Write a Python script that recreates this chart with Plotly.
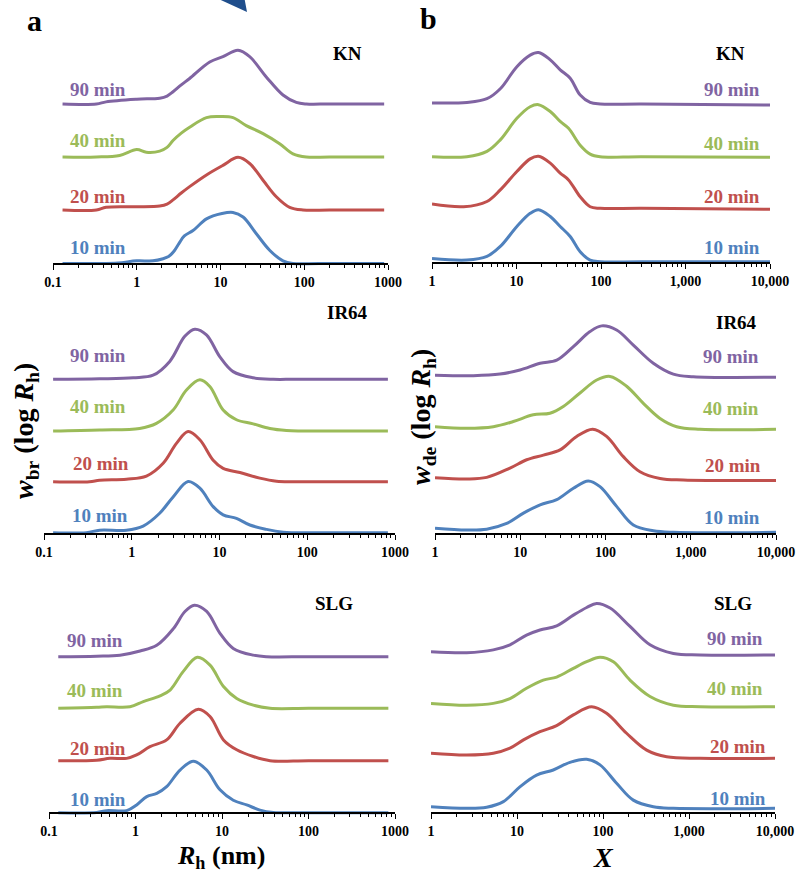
import plotly.graph_objects as go

W, H = 800, 875
FONT = "Liberation Serif"
COLORS = ["#4F81BD", "#C0504D", "#9BBB59", "#8064A2"]
TIMES = ["10 min", "20 min", "40 min", "90 min"]

# ---------------- Panel a (Rh), KN ----------------
kn_rh_x10 = [0.13, 0.33, 0.6, 1.0, 1.56, 2.06, 2.4, 2.75, 3.2, 3.7, 4.7, 6.8, 10.4, 14.1, 18.6, 26.8, 38.6, 55.7, 73, 150, 900]
kn_rh_y10 = [0, 0, 0.01, 0.05, 0.05, 0.09, 0.13, 0.22, 0.38, 0.52, 0.62, 0.84, 0.94, 0.96, 0.875, 0.56, 0.25, 0.05, 0, 0, 0]
kn_rh_x20 = [0.13, 0.33, 0.43, 1.0, 1.88, 2.3, 2.71, 3.4, 4.28, 6.8, 10.7, 16.2, 22.3, 32.2, 46.4, 67, 96.6, 200, 900]
kn_rh_y20 = [0, 0, 0.05, 0.06, 0.075, 0.11, 0.19, 0.32, 0.44, 0.66, 0.84, 0.99, 0.875, 0.56, 0.25, 0.05, 0, 0, 0]
kn_rh_x40 = [0.13, 0.33, 0.625, 1.0, 1.3, 1.88, 2.3, 2.71, 3.4, 4.28, 6.8, 9.8, 14.1, 20.3, 32.2, 50.8, 73.4, 106, 200, 900]
kn_rh_y40 = [0, 0, 0.03, 0.14, 0.09, 0.11, 0.18, 0.31, 0.45, 0.56, 0.74, 0.76, 0.74, 0.59, 0.44, 0.25, 0.06, 0, 0, 0]
kn_rh_x90 = [0.13, 0.33, 0.43, 1.0, 1.88, 2.3, 2.71, 3.4, 4.28, 7.43, 10.7, 16.2, 22.3, 35.2, 55.7, 80.4, 106, 200, 900]
kn_rh_y90 = [0, 0, 0.04, 0.09, 0.11, 0.15, 0.23, 0.36, 0.48, 0.79, 0.89, 1.01, 0.89, 0.51, 0.17, 0.03, 0, 0, 0]

# ---------------- Panel a (Rh), IR64 ----------------
ir_rh_x10 = [0.127, 0.304, 0.43, 0.87, 1.35, 2.08, 2.96, 4.39, 5.97, 8.47, 11, 15.6, 22.2, 34.4, 53.2, 69, 150, 830]
ir_rh_y10 = [0, 0, 0.05, 0.05, 0.13, 0.38, 0.7, 1.0, 0.87, 0.51, 0.35, 0.28, 0.15, 0.065, 0.01, 0, 0, 0]
ir_rh_x20 = [0.127, 0.33, 0.43, 0.87, 1.47, 2.28, 3.23, 4.39, 5.97, 8.47, 11, 17.1, 28.8, 44.7, 69, 150, 830]
ir_rh_y20 = [0, 0, 0.03, 0.05, 0.11, 0.36, 0.75, 0.98, 0.82, 0.42, 0.26, 0.18, 0.07, 0.01, 0, 0, 0]
ir_rh_x40 = [0.127, 0.43, 1.23, 1.91, 2.96, 4.2, 5.97, 7.76, 11, 15.6, 24.2, 37.5, 58, 82, 150, 830]
ir_rh_y40 = [0, 0.02, 0.05, 0.15, 0.41, 0.8, 1.0, 0.87, 0.41, 0.22, 0.14, 0.05, 0.01, 0, 0, 0]
ir_rh_x90 = [0.127, 0.43, 1.04, 1.75, 2.71, 4.02, 5.23, 7.1, 10.1, 14.3, 24.2, 40.9, 69, 150, 830]
ir_rh_y90 = [0, 0.01, 0.03, 0.08, 0.35, 0.84, 0.98, 0.87, 0.44, 0.15, 0.03, 0, 0, 0, 0]

# ---------------- Panel a (Rh), SLG ----------------
slg_rh_x10 = [0.128, 0.356, 0.464, 0.79, 1.03, 1.35, 1.76, 2.29, 3.27, 4.66, 6.65, 9.48, 13.5, 19.3, 27.5, 39.2, 100, 838]
slg_rh_y10 = [0, 0.005, 0.04, 0.04, 0.15, 0.31, 0.37, 0.5, 0.82, 0.99, 0.82, 0.44, 0.24, 0.15, 0.05, 0.005, 0, 0]
slg_rh_x20 = [0.128, 0.356, 0.507, 0.79, 1.03, 1.47, 2.29, 3.27, 5.33, 7.27, 10.4, 14.8, 23, 35.9, 100, 838]
slg_rh_y20 = [0, 0.01, 0.045, 0.045, 0.11, 0.27, 0.4, 0.72, 0.99, 0.85, 0.4, 0.21, 0.08, 0, 0, 0]
slg_rh_x40 = [0.128, 0.356, 0.464, 0.863, 1.23, 1.92, 2.51, 3.57, 5.19, 7.27, 10.4, 14.8, 23, 35.9, 100, 838]
slg_rh_y40 = [0, 0.02, 0.03, 0.03, 0.13, 0.24, 0.35, 0.71, 0.98, 0.83, 0.42, 0.19, 0.06, 0, 0, 0]
slg_rh_x90 = [0.128, 0.356, 0.662, 1.13, 1.76, 2.74, 3.73, 4.79, 6.65, 9.48, 13.5, 23, 32.8, 100, 838]
slg_rh_y90 = [0, 0.01, 0.03, 0.11, 0.22, 0.54, 0.87, 0.99, 0.87, 0.45, 0.16, 0.03, 0, 0, 0]

# ---------------- Panel b (X), KN ----------------
kn_x_x10 = [1, 2.59, 4.47, 6.43, 10.1, 14.5, 18.2, 25.1, 32.9, 43.2, 56.7, 74.4, 97.8, 300, 10000]
kn_x_y10 = [0.06, 0.03, 0.1, 0.29, 0.67, 0.92, 0.99, 0.86, 0.67, 0.48, 0.19, 0.03, 0, 0, 0]
kn_x_x20 = [1, 2.37, 4.47, 6.43, 10.1, 14.5, 18.2, 25.1, 32.9, 41.3, 56.7, 74.4, 97.8, 300, 10000]
kn_x_y20 = [0.08, 0.03, 0.13, 0.35, 0.7, 0.94, 0.99, 0.86, 0.67, 0.54, 0.22, 0.03, 0, 0, -0.02]
kn_x_x40 = [1, 2.59, 4.47, 6.43, 10.1, 14.5, 18.2, 25.1, 32.9, 41.3, 56.7, 74.4, 97.8, 300, 10000]
kn_x_y40 = [0, 0, 0.1, 0.32, 0.73, 0.95, 0.99, 0.86, 0.67, 0.54, 0.22, 0.05, 0, 0, -0.01]
kn_x_x90 = [1, 2.59, 4.47, 6.43, 10.1, 14.5, 18.2, 25.1, 32.9, 43.2, 56.7, 74.4, 97.8, 300, 10000]
kn_x_y90 = [0.02, 0.03, 0.1, 0.29, 0.71, 0.93, 0.98, 0.84, 0.65, 0.49, 0.17, 0.03, 0, 0, -0.02]

# ---------------- Panel b (X), IR64 ----------------
ir_x_x10 = [1, 2.35, 4.04, 6.93, 10.9, 17.1, 26.8, 42, 62.9, 86.2, 135, 212, 364, 625, 10000]
ir_x_y10 = [0.08, 0.045, 0.06, 0.17, 0.37, 0.53, 0.63, 0.85, 0.99, 0.88, 0.5, 0.14, 0.03, 0, 0]
ir_x_x20 = [1, 2.35, 4.04, 7.58, 11.9, 18.7, 29.3, 45.9, 70.7, 103, 162, 254, 436, 819, 10000]
ir_x_y20 = [0.045, 0.02, 0.05, 0.23, 0.39, 0.48, 0.58, 0.84, 0.98, 0.84, 0.45, 0.16, 0.03, 0, -0.01]
ir_x_x40 = [1, 2.35, 4.83, 8.3, 14.2, 22.3, 32, 50.2, 78.8, 113, 177, 278, 436, 684, 1283, 10000]
ir_x_y40 = [0.05, 0.02, 0.05, 0.15, 0.28, 0.31, 0.44, 0.7, 0.95, 1.02, 0.83, 0.5, 0.21, 0.05, 0, 0]
ir_x_x90 = [1, 2.82, 5.78, 9.93, 17.1, 26.8, 42, 65.8, 90.2, 135, 212, 364, 625, 1072, 10000]
ir_x_y90 = [0.03, 0.02, 0.05, 0.13, 0.26, 0.32, 0.58, 0.87, 0.98, 0.9, 0.61, 0.26, 0.05, 0, -0.01]

# ---------------- Panel b (X), SLG ----------------
slg_x_x10 = [1, 2.6, 4.44, 6.94, 10.8, 16.9, 26.4, 41.3, 64.6, 92.3, 144, 225, 385, 658, 10000]
slg_x_y10 = [0.03, 0, 0.02, 0.13, 0.42, 0.65, 0.75, 0.9, 0.96, 0.85, 0.49, 0.16, 0.03, 0, 0]
slg_x_x20 = [1, 2.6, 5.3, 8.29, 11.9, 18.5, 28.9, 45.2, 73.8, 110, 188, 322, 550, 1343, 10000]
slg_x_y20 = [0.1, 0.065, 0.1, 0.2, 0.36, 0.52, 0.64, 0.85, 1.01, 0.88, 0.49, 0.16, 0.03, 0, 0]
slg_x_x40 = [1, 2.6, 5.3, 8.29, 12.9, 20.2, 28.9, 45.2, 64.6, 92.3, 132, 206, 352, 658, 1343, 10000]
slg_x_y40 = [0.065, 0.03, 0.065, 0.16, 0.36, 0.52, 0.58, 0.75, 0.88, 0.97, 0.88, 0.52, 0.2, 0.03, 0, 0]
slg_x_x90 = [1, 2.6, 5.3, 8.29, 12.9, 18.5, 28.9, 45.2, 64.6, 84.4, 121, 206, 352, 658, 1343, 10000]
slg_x_y90 = [0.065, 0.045, 0.1, 0.2, 0.39, 0.49, 0.57, 0.78, 0.93, 1.01, 0.92, 0.56, 0.2, 0.03, 0, 0]

# Tick labels
rh_tickvals = [0.1, 1, 10, 100, 1000]
rh_ticktext = ["0.1", "1", "10", "100", "1000"]
x_tickvals = [1, 10, 100, 1000, 10000]
x_ticktext = ["1", "10", "100", "1,000", "10,000"]

# ---------------- layout geometry (pixels) ----------------
panels = [
    dict(xs=[kn_rh_x10, kn_rh_x20, kn_rh_x40, kn_rh_x90], ys=[kn_rh_y10, kn_rh_y20, kn_rh_y40, kn_rh_y90],
         name="KN", kind="rh", x0=53, x1=388, axis=264, base=[263.5, 210, 157, 104],
         lab_x=[68, 68, 68, 68], lab_y=[248, 197, 140, 89], title_xy=(347, 53)),
    dict(xs=[ir_rh_x10, ir_rh_x20, ir_rh_x40, ir_rh_x90], ys=[ir_rh_y10, ir_rh_y20, ir_rh_y40, ir_rh_y90],
         name="IR64", kind="rh", x0=44, x1=395, axis=534, base=[532.7, 481.7, 431, 379.3],
         lab_x=[70, 71, 68, 68], lab_y=[515, 463, 406, 355], title_xy=(347, 313)),
    dict(xs=[slg_rh_x10, slg_rh_x20, slg_rh_x40, slg_rh_x90], ys=[slg_rh_y10, slg_rh_y20, slg_rh_y40, slg_rh_y90],
         name="SLG", kind="rh", x0=49, x1=395, axis=813, base=[812.7, 760.7, 708.3, 656.7],
         lab_x=[68, 68, 65, 65], lab_y=[799, 748, 690, 640], title_xy=(334, 603)),
    dict(xs=[kn_x_x10, kn_x_x20, kn_x_x40, kn_x_x90], ys=[kn_x_y10, kn_x_y20, kn_x_y40, kn_x_y90],
         name="KN", kind="x", x0=432, x1=770, axis=263, base=[261.7, 208.3, 156.7, 104],
         lab_x=[762, 762, 762, 762], lab_y=[248, 197, 143, 89], title_xy=(730, 53)),
    dict(xs=[ir_x_x10, ir_x_x20, ir_x_x40, ir_x_x90], ys=[ir_x_y10, ir_x_y20, ir_x_y40, ir_x_y90],
         name="IR64", kind="x", x0=435, x1=776, axis=534, base=[532.3, 480, 429.3, 376.7],
         lab_x=[762, 763, 761, 761], lab_y=[517, 465, 408, 357], title_xy=(736, 322)),
    dict(xs=[slg_x_x10, slg_x_x20, slg_x_x40, slg_x_x90], ys=[slg_x_y10, slg_x_y20, slg_x_y40, slg_x_y90],
         name="SLG", kind="x", x0=431, x1=775, axis=813, base=[808.3, 758.3, 706.7, 655],
         lab_x=[768, 768, 765, 765], lab_y=[798, 746, 688, 638], title_xy=(733, 603)),
]


def px(x):
    return x / W


def py(y):
    return 1 - y / H


fig = go.Figure()
annotations = []
layout = {}

for i, p in enumerate(panels):
    k = "" if i == 0 else str(i + 1)
    unit = (p["base"][0] - p["base"][3]) / 3.0
    top_px = p["axis"] - 235
    bot_px = p["axis"] + 10
    y_lo = -(bot_px - p["axis"]) / unit
    y_hi = (p["axis"] - top_px) / unit
    for j in range(4):
        off = (p["axis"] - p["base"][j]) / unit
        fig.add_trace(go.Scatter(
            x=p["xs"][j], y=[v + off for v in p["ys"][j]],
            mode="lines", line=dict(color=COLORS[j], width=3.0, shape="spline", smoothing=1.0),
            xaxis="x" + k, yaxis="y" + k, showlegend=False, hoverinfo="skip"))
    if p["kind"] == "rh":
        rng, tv, tt = [-1, 3], rh_tickvals, rh_ticktext
        minor_vals = [m * 10 ** e for e in range(-1, 3) for m in range(2, 10)]
    else:
        rng, tv, tt = [0, 4], x_tickvals, x_ticktext
        minor_vals = [m * 10 ** e for e in range(0, 4) for m in range(2, 10)]
    layout["xaxis" + k] = dict(
        type="log", range=rng, domain=[px(p["x0"]), px(p["x1"])],
        anchor="free", position=py(p["axis"]), automargin=False,
        showline=True, linecolor="black", linewidth=1.6,
        ticks="outside", ticklen=5, tickwidth=1.4, tickcolor="black",
        tickmode="array", tickvals=tv, ticktext=["<b>%s</b>" % t for t in tt],
        tickfont=dict(family=FONT, size=14, color="black"),
        minor=dict(tickmode="array", tickvals=minor_vals, ticks="outside", ticklen=3,
                   tickwidth=1.2, tickcolor="black", showgrid=False),
        showgrid=False, zeroline=False, fixedrange=True)
    layout["yaxis" + k] = dict(
        range=[y_lo, y_hi], domain=[py(bot_px), py(top_px)], anchor="x" + k,
        visible=False, automargin=False, fixedrange=True)
    for j in range(4):
        annotations.append(dict(
            x=px(p["lab_x"][j]), y=py(p["lab_y"][j]), xref="paper", yref="paper",
            text="<b>%s</b>" % TIMES[j], showarrow=False,
            xanchor="left" if p["kind"] == "rh" else "right", yanchor="middle",
            font=dict(family=FONT, size=19, color=COLORS[j])))
    annotations.append(dict(
        x=px(p["title_xy"][0]), y=py(p["title_xy"][1]), xref="paper", yref="paper",
        text="<b>%s</b>" % p["name"], showarrow=False, xanchor="center", yanchor="middle",
        font=dict(family=FONT, size=19, color="black")))

# Panel letters
annotations.append(dict(x=px(34), y=py(20), xref="paper", yref="paper", text="<b>a</b>",
                        showarrow=False, xanchor="center", yanchor="middle",
                        font=dict(family=FONT, size=30, color="black")))
annotations.append(dict(x=px(428), y=py(18), xref="paper", yref="paper", text="<b>b</b>",
                        showarrow=False, xanchor="center", yanchor="middle",
                        font=dict(family=FONT, size=30, color="black")))
# Axis titles
annotations.append(dict(x=px(221), y=py(857), xref="paper", yref="paper",
                        text="<b><i>R</i><sub>h</sub> (nm)</b>",
                        showarrow=False, xanchor="center", yanchor="middle",
                        font=dict(family=FONT, size=26, color="black")))
annotations.append(dict(x=px(603), y=py(857), xref="paper", yref="paper",
                        text="<b><i>X</i></b>",
                        showarrow=False, xanchor="center", yanchor="middle",
                        font=dict(family=FONT, size=28, color="black")))
annotations.append(dict(x=px(25), y=py(431), xref="paper", yref="paper",
                        text="<b><i>w</i><sub>br</sub> (log <i>R</i><sub>h</sub>)</b>",
                        showarrow=False, textangle=-90, xanchor="center", yanchor="middle",
                        font=dict(family=FONT, size=28, color="black")))
annotations.append(dict(x=px(422), y=py(417), xref="paper", yref="paper",
                        text="<b><i>w</i><sub>de</sub> (log <i>R</i><sub>h</sub>)</b>",
                        showarrow=False, textangle=-90, xanchor="center", yanchor="middle",
                        font=dict(family=FONT, size=28, color="black")))

# Cropped arrowhead at the top edge
tri = "M %f,%f L %f,%f L %f,%f Z" % (px(212), py(-4), px(244), py(-4), px(247), py(12))
shapes = [dict(type="path", path=tri, xref="paper", yref="paper",
               fillcolor="#1F4E8C", line=dict(width=0))]

fig.update_layout(
    template="none",
    width=W, height=H, autosize=False,
    margin=dict(l=0, r=0, t=0, b=0, pad=0, autoexpand=False),
    paper_bgcolor="white", plot_bgcolor="rgba(0,0,0,0)",
    annotations=annotations, shapes=shapes,
    font=dict(family=FONT),
    **layout)

fig.write_html("out.html",
               config={"displayModeBar": False},
               post_script="document.body.style.margin='0';document.body.style.overflow='hidden';")
